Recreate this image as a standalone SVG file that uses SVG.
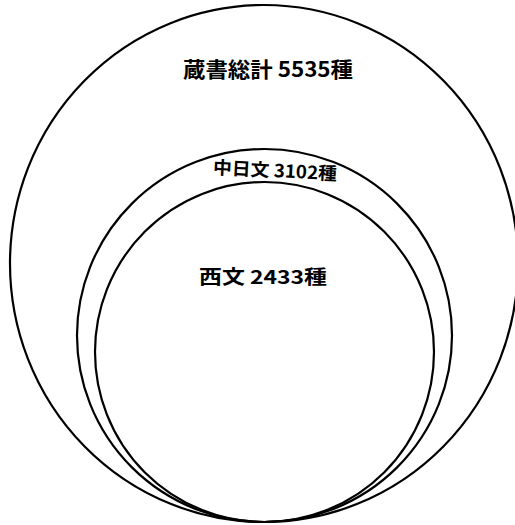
<svg xmlns="http://www.w3.org/2000/svg" width="515" height="525" viewBox="0 0 515 525">
<style>
.c{fill:none;stroke:#000;stroke-width:2.2}
.t{font-family:"Noto Sans CJK JP","Noto Sans CJK SC",sans-serif;font-weight:bold;fill:#000}
</style>
<rect width="515" height="525" fill="#fff"/>
<g id="all">
<ellipse class="c" cx="264" cy="263.5" rx="254" ry="258.5"/>
<text class="t" x="268" y="77" font-size="21" text-anchor="middle" textLength="170" lengthAdjust="spacingAndGlyphs">蔵書総計 5535種</text>
</g>
<g id="japanese-chinese">
<ellipse class="c" cx="264.5" cy="335.5" rx="187.5" ry="186.5"/>
<text class="t" x="275" y="177" font-size="18" text-anchor="middle" textLength="124" lengthAdjust="spacingAndGlyphs" transform="rotate(3 275 170)">中日文 3102種</text>
</g>
<g id="western">
<ellipse class="c" cx="264.5" cy="352" rx="169.5" ry="170"/>
<text class="t" x="263" y="284" font-size="19" text-anchor="middle" textLength="128" lengthAdjust="spacingAndGlyphs">西文 2433種</text>
</g>
<g id="connectors"></g>
</svg>
